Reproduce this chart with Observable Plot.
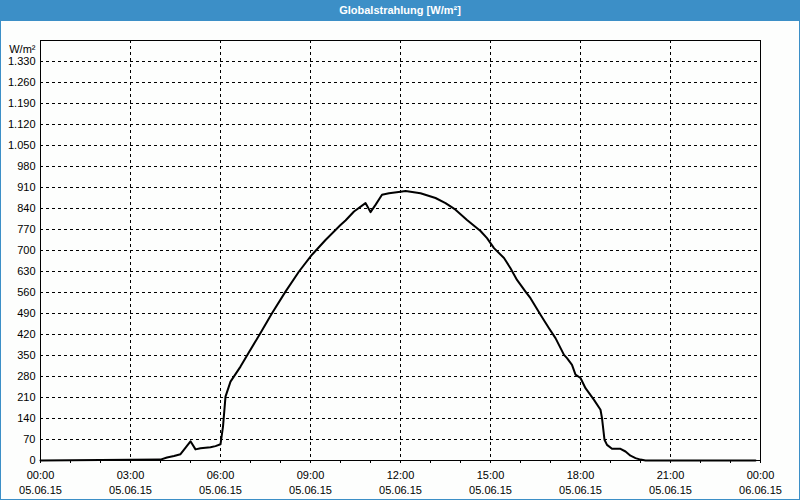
<!DOCTYPE html>
<html>
<head>
<meta charset="utf-8">
<script src="https://cdn.jsdelivr.net/npm/d3@7"></script>
<script src="https://cdn.jsdelivr.net/npm/@observablehq/plot@0.6"></script>
<style>
  html, body { margin: 0; padding: 0; background: #fdfefd; }
  #wrap { position: relative; width: 800px; height: 500px; background: #fdfefd; overflow: hidden; font-family: "Liberation Sans", Arial, sans-serif; }
  #wrap::after { content: ""; position: absolute; left: 0; top: 0; width: 798px; height: 498px; border: 1px solid #3c8fc7; pointer-events: none; }
  #title { position: absolute; left: 0; top: 0; width: 800px; height: 21px; background: #3c8fc7; color: #fff; font-weight: bold; font-size: 11px; line-height: 21px; text-align: center; }
  #chart { position: absolute; left: 0; top: 21px; }
  #chart svg { background: transparent; }
</style>
</head>
<body>
<div id="wrap">
  <div id="title"></div>
  <div id="chart"></div>
</div>
<script>
const titleText = "Globalstrahlung [W/m²]";
const unitLabel = "W/m²";
const dayLabel = "05.06.15";
const nextDayLabel = "06.06.15";

const times = ["00:00","04:00","04:13","04:27","04:40","05:00","05:10","05:20","05:40","05:50","06:00","06:05","06:10","06:20","06:40","06:56","07:20","07:43","08:10","08:37","09:03","09:30","10:00","10:10","10:27","10:50","11:00","11:10","11:23","11:37","12:00","12:10","12:40","13:10","13:30","13:50","14:13","14:40","14:53","15:07","15:27","15:40","15:53","16:10","16:20","16:40","16:57","17:10","17:27","17:33","17:43","17:50","18:00","18:10","18:27","18:40","18:43","18:48","18:53","19:03","19:20","19:30","19:40","19:50","20:00","20:10","23:50"];
const values = [0,3,10,15,21,64,37,41,44,48,54,113,213,263,313,358,425,491,563,630,686,735,785,800,830,858,828,852,886,891,896,898,891,875,858,836,802,765,741,708,675,641,602,563,541,486,441,408,352,341,319,286,275,241,202,169,141,69,52,39,39,30,16,8,3,0,0];

const yTicks = d3.range(0, 1331, 70);
const xMajor = d3.range(0, 25, 3);
const xMinor = d3.range(0, 25, 1);

document.getElementById("title").textContent = titleText;

const toHours = s => { const [h, m] = s.split(":").map(Number); return h + m / 60; };
const data = times.map((t, i) => ({h: toHours(t), v: values[i]}));

const de = d3.formatLocale({decimal: ",", thousands: ".", grouping: [3], currency: ["", "€"]});
const fmtY = de.format(",d");
const fmtX = h => {
  const hh = String(h % 24).padStart(2, "0") + ":00";
  return hh + "\n" + (h >= 24 ? nextDayLabel : dayLabel);
};

const plot = Plot.plot({
  width: 800,
  height: 478,
  marginLeft: 40,
  marginRight: 40,
  marginTop: 19,
  marginBottom: 39,
  style: {fontFamily: "Liberation Sans, Arial, sans-serif", fontSize: "11px", color: "black", background: "transparent"},
  x: {domain: [0, 24], label: null},
  y: {domain: [0, 1400], label: null},
  marks: [
    Plot.ruleY(yTicks.filter(d => d > 0), {stroke: "black", strokeDasharray: "3,3", strokeWidth: 1}),
    Plot.ruleX(xMajor.filter(d => d > 0 && d < 24), {stroke: "black", strokeDasharray: "3,3", strokeWidth: 1}),
    Plot.axisX({ticks: xMinor, tickSize: 3, tickFormat: () => "", label: null, stroke: "black", strokeOpacity: 1}),
    Plot.axisX({ticks: xMajor, tickSize: 0, tickPadding: 8, tickFormat: fmtX, label: null, lineHeight: 1.38, fill: "black", fontSize: 11}),
    Plot.axisY({ticks: yTicks, tickSize: 0, tickPadding: 5, tickFormat: fmtY, label: null, fill: "black", fontSize: 11}),
    Plot.text([unitLabel], {frameAnchor: "top-left", textAnchor: "end", dx: -5, dy: 5, fill: "black", fontSize: 11}),
    Plot.frame({stroke: "black", strokeWidth: 1}),
    Plot.line(data, {x: "h", y: "v", stroke: "black", strokeWidth: 2, curve: "linear"})
  ]
});
document.getElementById("chart").appendChild(plot);
</script>
</body>
</html>
